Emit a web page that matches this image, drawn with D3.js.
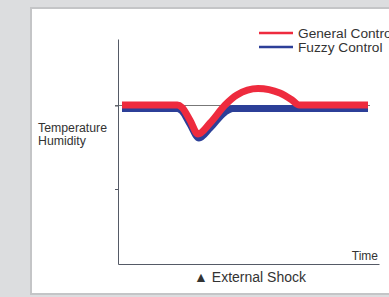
<!DOCTYPE html>
<html><head><meta charset="utf-8">
<script src="https://cdn.jsdelivr.net/npm/d3@7"></script>
<style>html,body{margin:0;padding:0;background:#dcdddf;}svg{display:block;}</style>
</head><body>
<svg id="c" width="389" height="297"></svg>
<script>
const series = ["General Control", "Fuzzy Control"];
const colors = ["#ee2b3e", "#2c3f98"];
const timeGeneral = [0, 22.5, 24.4, 27.6, 30.9, 35.8, 41.9, 46.7, 55.3, 64.2, 69.1, 72, 100];
const valGeneral  = [31.8, 31.8, 31.3, 28.8, 26, 28.2, 31.8, 33.8, 35.1, 34.2, 32.8, 31.8, 31.8];
const timeFuzzy = [0, 22.5, 24.4, 27.6, 31.3, 35.8, 41.9, 45, 100];
const valFuzzy  = [31.1, 31.1, 30.6, 28, 25.2, 27.2, 30.4, 31.1, 31.1];
const setpoint = 31.7;
const yTicks = [15, 31.7];
const yLabel = ["Temperature", "Humidity"];
const xLabel = "Time";
const caption = "▲ External Shock";

const svg = d3.select("#c");
svg.append("rect").attr("x", 31).attr("y", 8).attr("width", 370).attr("height", 286)
  .attr("fill", "#fff").attr("stroke", "#c4c5c7").attr("stroke-width", 2);

const x = d3.scaleLinear().domain([0, 100]).range([122, 368]);
const y = d3.scaleLinear().domain([0, 45]).range([264, 39]);

svg.append("line").attr("x1", 115).attr("x2", 370).attr("y1", y(setpoint)).attr("y2", y(setpoint))
  .attr("stroke", "#777").attr("stroke-width", 1);

const yAxis = svg.append("g").attr("transform", "translate(118,0)")
  .call(d3.axisLeft(y).tickValues(yTicks).tickSize(3).tickSizeOuter(0).tickFormat(""));
yAxis.selectAll("path,line").attr("stroke", "#555a66");
const xAxis = svg.append("g").attr("transform", `translate(0,${y(0)})`)
  .call(d3.axisBottom(d3.scaleLinear().domain([0,1]).range([118, 379])).ticks(0).tickSizeOuter(0));
xAxis.selectAll("path").attr("stroke", "#555a66");

const line = d3.line().x(d => x(d[0])).y(d => y(d[1])).curve(d3.curveMonotoneX);
const dataF = timeFuzzy.map((t, i) => [t, valFuzzy[i]]);
const dataG = timeGeneral.map((t, i) => [t, valGeneral[i]]);
svg.append("path").datum(dataF).attr("d", line).attr("fill", "none")
  .attr("stroke", colors[1]).attr("stroke-width", 7).attr("stroke-linecap", "butt");
svg.append("path").datum(dataG).attr("d", line).attr("fill", "none")
  .attr("stroke", colors[0]).attr("stroke-width", 7).attr("stroke-linecap", "butt");

const font = "Liberation Sans, Arial, sans-serif";
series.forEach((s, i) => {
  const ly = 33 + i * 14;
  svg.append("line").attr("x1", 259).attr("x2", 293).attr("y1", ly).attr("y2", ly)
    .attr("stroke", colors[i]).attr("stroke-width", 2.5);
  svg.append("text").attr("x", 298).attr("y", ly + 5).text(s)
    .attr("font-family", font).attr("font-size", 13.7).attr("fill", "#333");
});

const tl = svg.append("text").attr("font-family", font)
  .attr("font-size", 12.3).attr("fill", "#333");
yLabel.forEach((t, i) => tl.append("tspan").attr("x", 38).attr("y", 132 + i * 13).text(t));

svg.append("text").attr("x", 378).attr("y", 260).attr("text-anchor", "end").text(xLabel)
  .attr("font-family", font).attr("font-size", 12).attr("fill", "#333");

svg.append("text").attr("x", 250).attr("y", 282).attr("text-anchor", "middle").text(caption)
  .attr("font-family", font).attr("font-size", 14).attr("fill", "#333");
</script>
</body></html>
